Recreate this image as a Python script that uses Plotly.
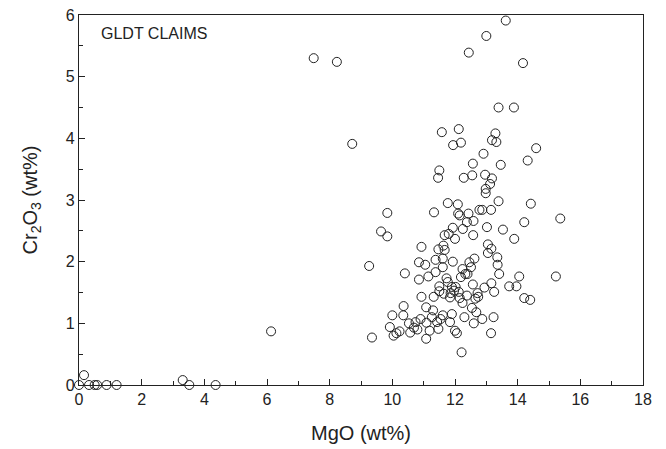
import plotly.graph_objects as go

mgo = [0.0, 0.16, 0.32, 0.5, 0.58, 0.88, 1.2, 3.31, 3.52, 4.36, 6.13, 7.49, 8.23, 8.72,
       9.26, 9.35, 9.64, 9.84, 9.84, 9.92, 10.0, 10.04, 10.13, 10.23, 10.36, 10.40, 10.35,
       10.53, 10.57, 10.69, 10.74, 10.80, 10.85, 10.85, 10.93, 10.93, 10.90, 11.05, 11.08,
       11.09, 11.08, 11.15, 11.19, 11.26, 11.30, 11.32, 11.33, 11.38, 11.38, 11.43, 11.46,
       11.50, 11.50, 11.50, 11.47, 11.47, 11.54, 11.58, 11.61, 11.61, 11.61, 11.63, 11.67,
       11.67, 11.64, 11.73, 11.77, 11.77, 11.80, 11.84, 11.86, 11.84, 11.90, 11.93, 11.93,
       11.90, 11.94, 11.97, 12.00, 12.00, 12.02, 12.06, 12.09, 12.10, 12.12, 12.15, 12.12,
       12.15, 12.19, 12.19, 12.21, 12.24, 12.24, 12.25, 12.28, 12.30, 12.33, 12.38, 12.38,
       12.40, 12.43, 12.44, 12.46, 12.51, 12.54, 12.55, 12.57, 12.57, 12.58, 12.59, 12.60,
       12.62, 12.65, 12.68, 12.72, 12.74, 12.78, 12.87, 12.87, 12.91, 12.94, 12.96, 12.98,
       13.00, 12.98, 13.02, 13.05, 13.05, 13.12, 13.15, 13.15, 13.16, 13.16, 13.18, 13.18,
       13.23, 13.25, 13.29, 13.32, 13.35, 13.36, 13.39, 13.39, 13.41, 13.46, 13.53, 13.62,
       13.73, 13.88, 13.89, 13.96, 14.05, 14.17, 14.21, 14.21, 14.32, 14.40, 14.42, 14.59,
       15.22, 15.36]

cr2o3 = [0.0, 0.16, 0.0, 0.0, 0.0, 0.0, 0.0, 0.08, 0.0, 0.0, 0.87, 5.30, 5.24, 3.91,
         1.93, 0.77, 2.49, 2.79, 2.41, 0.94, 1.13, 0.80, 0.84, 0.87, 1.28, 1.81, 1.13,
         1.00, 0.85, 0.93, 1.02, 0.90, 1.71, 1.99, 2.24, 1.43, 1.07, 1.95, 1.26,
         1.01, 0.75, 1.76, 0.88, 1.10, 1.21, 1.43, 2.80, 2.03, 1.83, 1.02, 3.36,
         3.48, 1.60, 1.52, 2.20, 0.91, 1.07, 4.10, 1.13, 1.91, 2.05, 2.26, 2.19,
         2.43, 1.48, 1.73, 2.95, 1.67, 2.45, 1.42, 1.49, 1.02, 1.15, 2.55, 2.00,
         1.59, 3.89, 1.53, 2.37, 0.88, 1.59, 0.84, 2.93, 2.78, 4.15, 2.75, 1.51,
         1.41, 3.93, 1.75, 0.53, 1.33, 1.88, 2.53, 3.36, 1.10, 1.80, 2.64, 1.45,
         1.80, 2.78, 5.39, 1.99, 1.91, 1.25, 3.40, 3.59, 1.63, 2.43, 2.66, 1.00,
         2.05, 1.40, 1.18, 1.49, 1.43, 2.84, 2.84, 1.07, 3.75, 1.58, 3.41, 3.11,
         5.66, 3.18, 2.56, 2.28, 2.14, 3.26, 2.84, 0.84, 2.21, 1.65, 3.35, 3.97,
         1.10, 1.51, 4.08, 3.94, 2.07, 1.95, 4.50, 2.98, 1.80, 3.57, 2.52, 5.91,
         1.60, 4.50, 2.37, 1.60, 1.76, 5.22, 2.64, 1.41, 3.64, 1.38, 2.94, 3.84,
         1.76, 2.70]

label_text = "GLDT CLAIMS"
x_title = "MgO (wt%)"
y_title = "Cr<sub>2</sub>O<sub>3</sub> (wt%)"
x_ticks = [0, 2, 4, 6, 8, 10, 12, 14, 16, 18]
y_ticks = [0, 1, 2, 3, 4, 5, 6]

fig = go.Figure()
fig.add_trace(go.Scatter(
    x=mgo, y=cr2o3, mode="markers", cliponaxis=False,
    marker=dict(symbol="circle-open", size=9, color="#222222",
                line=dict(width=1, color="#222222")),
    showlegend=False,
))

font_family = "Liberation Sans, Arial, sans-serif"
fig.update_layout(
    width=658, height=441,
    margin=dict(l=71, r=23, t=7, b=64),
    plot_bgcolor="white", paper_bgcolor="white",
    font=dict(family=font_family, color="#222222"),
    annotations=[dict(text=label_text, x=0.035, y=0.95, xref="paper", yref="paper",
                      xanchor="left", yanchor="middle", showarrow=False,
                      font=dict(size=16, family=font_family, color="#222222"))],
)
fig.update_xaxes(
    range=[0, 18], tickvals=x_ticks, ticktext=[str(v) for v in x_ticks],
    ticks="inside", ticklen=6, tickwidth=1, tickcolor="#222222",
    minor=dict(dtick=1, ticks="inside", ticklen=4, tickcolor="#222222", showgrid=False),
    showline=True, linecolor="#222222", linewidth=1.3, mirror=True,
    showgrid=False, zeroline=False, automargin=False, ticklabeloverflow="allow",
    tickfont=dict(size=16), title=dict(text=x_title, font=dict(size=20), standoff=18),
)
fig.update_yaxes(
    range=[0, 6], tickvals=y_ticks, ticktext=[str(v) for v in y_ticks],
    ticks="inside", ticklen=6, tickwidth=1, tickcolor="#222222",
    minor=dict(dtick=0.5, ticks="inside", ticklen=4, tickcolor="#222222", showgrid=False),
    showline=True, linecolor="#222222", linewidth=1.3, mirror=True,
    showgrid=False, zeroline=False, automargin=False, ticklabeloverflow="allow",
    tickfont=dict(size=16), title=dict(text=y_title, font=dict(size=20), standoff=22),
)

fig.write_html("out.html")
